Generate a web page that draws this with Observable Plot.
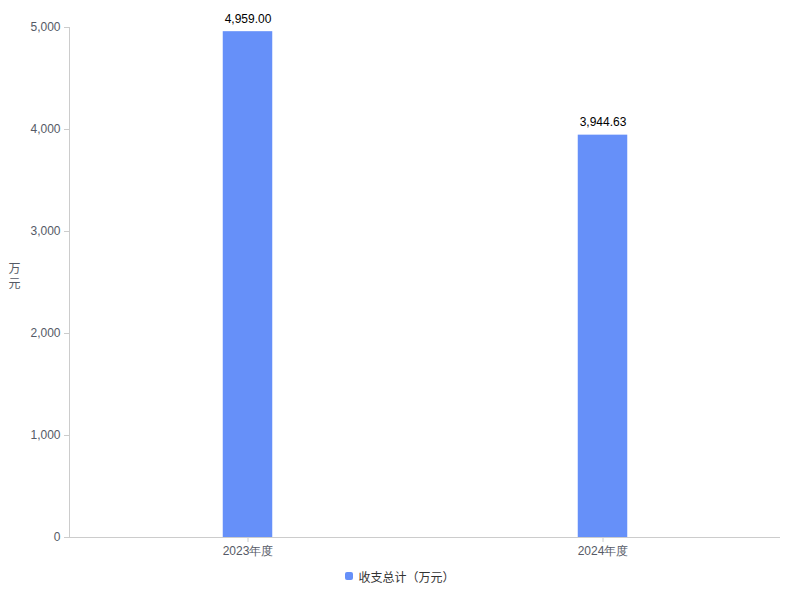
<!DOCTYPE html>
<html>
<head>
<meta charset="utf-8">
<script src="https://cdn.jsdelivr.net/npm/d3@7"></script>
<script src="https://cdn.jsdelivr.net/npm/@observablehq/plot@0.6"></script>
<style>
  body { margin: 0; background: #fff; font-family: "Noto Sans CJK SC", "Liberation Sans", sans-serif; }
  #chart svg { display: block; }
  .legend { height: 32px; display: flex; align-items: center; justify-content: center; font-size: 12px; color: #333; }
  .legend .sw { width: 8px; height: 8px; background: #6690F9; border-radius: 2px; margin-right: 5px; }
</style>
</head>
<body>
<div id="chart"></div>
<div class="legend"><span class="sw"></span><span>收支总计（万元）</span></div>
<script>
const categories = ["2023年度", "2024年度"];
const values = [4959.00, 3944.63];
const yTicks = [0, 1000, 2000, 3000, 4000, 5000];
const seriesName = "收支总计（万元）";
const yLabel = "万元";

const data = categories.map((c, i) => ({ category: c, value: values[i] }));
const fmt = d3.format(",.2f");

const chart = Plot.plot({
  width: 800,
  height: 560,
  marginTop: 27,
  marginBottom: 23,
  marginLeft: 69,
  marginRight: 20,
  style: { fontFamily: "Liberation Sans, Arial, sans-serif", fontSize: "12px", color: "#555a66" },
  x: { domain: categories, padding: 0, label: null },
  y: { domain: [0, 5000], ticks: yTicks, label: null },
  marks: [
    Plot.barY(data, { x: "category", y: "value", fill: "#6690F9", insetLeft: 152.75, insetRight: 152.75 }),
    Plot.text(data, { x: "category", y: "value", text: d => fmt(d.value), dy: -13, fill: "#000", fontSize: 12 }),
    Plot.axisY({ ticks: yTicks, tickFormat: d3.format(","), tickSize: 5, tickPadding: 4, stroke: "#ccc", strokeOpacity: 1, fill: "#555a66", fontSize: 12 }),
    Plot.frame({ anchor: "left", stroke: "#ccc" }),
    Plot.axisX({ tickSize: 5, tickPadding: 4, stroke: "#ccc", strokeOpacity: 1, fill: "#555a66", fontSize: 12 }),
    Plot.ruleY([0], { stroke: "#ccc" }),
    Plot.text([yLabel], { frameAnchor: "left", textAnchor: "middle", text: d => d.split("").join("\n"), dx: -55, dy: -7, lineHeight: 1.3, fill: "#555a66", fontSize: 12, fontFamily: "Noto Sans CJK SC" })
  ]
});
document.getElementById("chart").append(chart);
</script>
</body>
</html>
